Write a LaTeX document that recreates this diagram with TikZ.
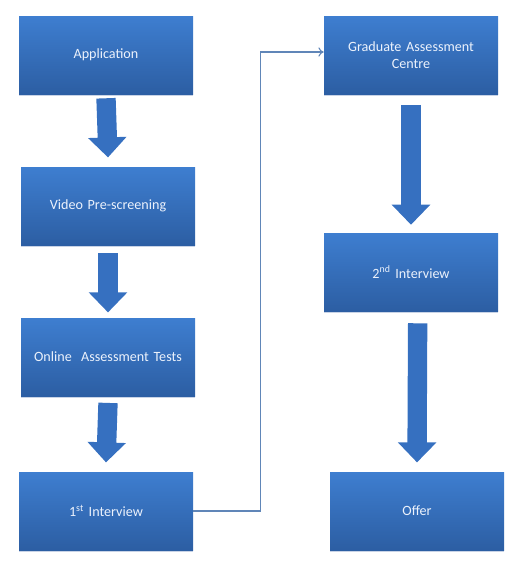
\documentclass[tikz,border=0pt]{standalone}
\usepackage{fontspec}
\setmainfont{Carlito}[WordSpace=0.75]
\usepackage{tikz}
\usetikzlibrary{arrows.meta,positioning,shadows}

\definecolor{boxtop}{RGB}{62,126,208}
\definecolor{boxbottom}{RGB}{44,94,163}
\definecolor{arrowblue}{RGB}{54,112,192}
\definecolor{linkblue}{RGB}{96,134,184}
\definecolor{shadowblue}{RGB}{200,211,230}
\definecolor{boxtext}{RGB}{236,242,252}

\begin{document}
\begin{tikzpicture}[
    x=0.75pt, y=-0.75pt,
    stage/.style={rectangle, top color=boxtop, bottom color=boxbottom, text=boxtext, minimum width=130.5pt, minimum height=58.5pt, text width=120pt, align=center, inner sep=0pt, font=\fontsize{10.6}{13}\selectfont, general shadow={shadow yshift=-1.8pt, fill=shadowblue}},
    blockarrow/.style={draw=arrowblue, line width=14.5pt, -{Triangle[width=28pt, length=15pt]}},
    link/.style={draw=linkblue, line width=0.8pt, -{To[length=4pt, width=7pt]}}
]
\useasboundingbox (0,0) rectangle (522,568);

% Left column
\node[stage] (app) at (106, 55) {Application};
\node[stage] (video) at (108, 206) {Video Pre-screening};
\node[stage] (online) at (108, 357) {Online~ Assessment Tests};
\node[stage] (first) at (106, 511) {1\textsuperscript{st} Interview};

% Right column
\node[stage] (grad) at (411, 55) {Graduate Assessment\\Centre};
\node[stage] (second) at (411, 272) {2\textsuperscript{nd} Interview};
\node[stage] (offer) at (417, 511) {Offer};

% Block arrows
\draw[blockarrow] ([yshift=-3pt]app.south) -- ([yshift=7pt]video.north);
\draw[blockarrow] ([yshift=-6pt]video.south) -- ([yshift=4pt]online.north);
\draw[blockarrow] ([yshift=-5pt]online.south) -- ([yshift=7pt]first.north);
\draw[blockarrow] ([yshift=-8pt]grad.south) -- ([yshift=6pt]second.north);
\draw[blockarrow] ([xshift=5pt, yshift=-9pt]second.south) -- ([yshift=7pt]offer.north);

% Link to second column
\draw[link] (first.east) -- ++(67,0) |- ([yshift=2.25pt]grad.west);

\end{tikzpicture}
\end{document}
